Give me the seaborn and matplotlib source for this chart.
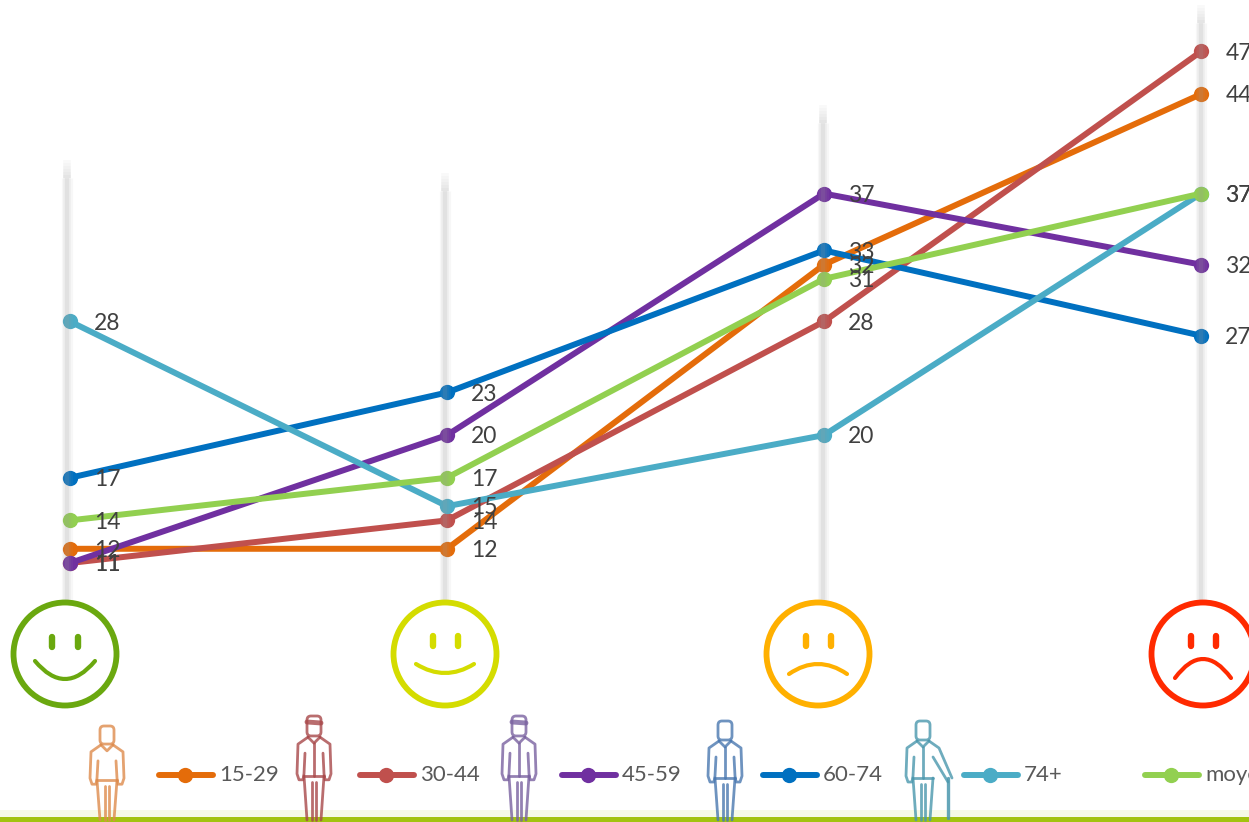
import matplotlib
matplotlib.use('Agg')
import numpy as np
import pandas as pd
import matplotlib.pyplot as plt
import seaborn as sns
from matplotlib.path import Path
from matplotlib.patches import Circle, PathPatch, FancyBboxPatch

# ==================== Data ====================
moods = [0, 1, 2, 3]
age_groups = ['15-29', '30-44', '45-59', '60-74', '74+', 'moyenne']
values_15_29 = [12, 12, 32, 44]
values_30_44 = [11, 14, 28, 47]
values_45_59 = [11, 20, 37, 32]
values_60_74 = [17, 23, 33, 27]
values_74_plus = [28, 15, 20, 37]
values_moyenne = [14, 17, 31, 37]
colors = ['#E46C0A', '#C0504D', '#7030A0', '#0070C0', '#4BACC6', '#92D050']

all_values = [values_15_29, values_30_44, values_45_59, values_60_74, values_74_plus, values_moyenne]
rows = []
for group, vals in zip(age_groups, all_values):
    for mood, val in zip(moods, vals):
        rows.append({'mood': mood, 'group': group, 'value': val})
df = pd.DataFrame(rows)

sns.set_theme(style='white')
plt.rcParams['font.family'] = ['Lato', 'DejaVu Sans']

W, H = 1249, 822
fig = plt.figure(figsize=(W / 100, H / 100), dpi=100, facecolor='white')

# chart axes fill the whole figure, limits chosen so the categories land under the faces
ax = fig.add_axes([0, 0, 1, 1])
px_per_cat = (1201 - 70) / 3
px_per_val = (563 - 51.5) / 36
ax.set_xlim(-70 / px_per_cat, (W - 70) / px_per_cat)
ax.set_ylim(47 - (H - 51.5) / px_per_val, 47 + 51.5 / px_per_val)
ax.axis('off')

sns.lineplot(data=df, x='mood', y='value', hue='group', hue_order=age_groups,
             palette=colors, marker='o', markersize=11, markeredgewidth=0,
             linewidth=4.3, errorbar=None, legend=False, ax=ax, zorder=3)

for vals in all_values:
    for mood, val in zip(moods, vals):
        ax.annotate(str(val), (mood, val), xytext=(17.5, -1.2), textcoords='offset points',
                    ha='left', va='center', fontsize=16.5, color='#404040', zorder=6)

# overlay in pixel coordinates for the decorations
deco = fig.add_axes([0, 0, 1, 1], facecolor='none')
deco.set_xlim(0, W)
deco.set_ylim(H, 0)
deco.axis('off')

# ---- soft vertical guides
guide_x = [67, 445, 823, 1201]
guide_top = [160, 173, 105, 5]
for gx, top in zip(guide_x, guide_top):
    for lw, alpha in [(8, 0.08), (5.5, 0.10), (3, 0.14)]:
        deco.plot([gx, gx], [top + 18, 600], color='#9a9a9a', lw=lw, alpha=alpha,
                  solid_capstyle='butt', zorder=4)
    for i, alpha in enumerate([0.05, 0.09, 0.13, 0.17, 0.21, 0.26]):
        deco.plot([gx, gx], [top + i * 3, top + i * 3 + 3], color='#9a9a9a', lw=5.5,
                  alpha=alpha, solid_capstyle='butt', zorder=4)


# ---- smileys
def face(cx, color, eye_dx, eye_y, mouth_dx, mouth_y, mouth_ctrl, r=51.5, lw=4.2, clip_x=None):
    art = []
    art.append(deco.add_patch(Circle((cx, 654), r, fill=False, ec=color, lw=lw, zorder=5)))
    for ex in eye_dx:
        art += deco.plot([cx + ex, cx + ex], eye_y, color=color, lw=4.6,
                         solid_capstyle='round', zorder=5)
    verts = [(cx - mouth_dx, mouth_y), (cx, mouth_ctrl), (cx + mouth_dx, mouth_y)]
    art.append(deco.add_patch(PathPatch(Path(verts, [Path.MOVETO, Path.CURVE3, Path.CURVE3]),
                                        fill=False, ec=color, lw=3, capstyle='round', zorder=5)))
    if clip_x is not None:
        box = plt.Rectangle((0, 0), clip_x, H, transform=deco.transData)
        for a in art:
            a.set_clip_path(box)


face(65, '#6AA80F', (-13, 13), (637, 647), 30, 661, 697, clip_x=120)
face(445, '#D4DC00', (-12, 13), (636, 646), 29, 664, 682)
face(818, '#FFB000', (-12, 13), (636, 646), 29, 674, 654)
face(1203, '#FF2A00', (-12, 13), (636, 646), 28, 678, 640)


# ---- little people above the legend
def person(cx, top, color, jacket=False, cane=False, hair=False):
    bottom = 820
    h = bottom - top
    lw = 2
    sx = 16
    neck = top + 0.23 * h
    hip = top + 0.58 * h
    hand = top + 0.56 * h
    c = dict(color=color, lw=lw, zorder=5, solid_capstyle='round', alpha=0.8)
    deco.add_patch(FancyBboxPatch((cx - 7, top + 1), 14, 0.19 * h, boxstyle='round,pad=0,rounding_size=4',
                                  fill=False, ec=color, lw=lw, alpha=0.8, zorder=5))
    if hair:
        deco.plot([cx - 7, cx + 7], [top + 7, top + 8], color=color, lw=3.5, alpha=0.8, zorder=5)
    # outer outline of shoulders and arms
    deco.plot([cx - 6, cx - sx, cx - sx - 1, cx - sx + 1, cx - sx + 5, cx - sx + 6, cx - sx + 7],
              [neck - 2, neck + 5, hand, hand + 6, hand + 6, hand, neck + 14], **c)
    if cane:
        deco.plot([cx + 6, cx + sx, cx + 29], [neck - 2, neck + 5, hand + 2], **c)
        deco.plot([cx + sx - 6, cx + 25], [neck + 14, hand + 6], **c)
        deco.plot([cx + 25, cx + 25], [hand + 2, bottom - 2], color=color, lw=2.4, alpha=0.85, zorder=5)
    else:
        deco.plot([cx + 6, cx + sx, cx + sx + 1, cx + sx - 1, cx + sx - 5, cx + sx - 6, cx + sx - 7],
                  [neck - 2, neck + 5, hand, hand + 6, hand + 6, hand, neck + 14], **c)
    # collar, hem, centre line
    deco.plot([cx - 6, cx, cx + 6], [neck - 2, neck + 4, neck - 2], **c)
    deco.plot([cx - 10, cx + 10], [hip, hip], **c)
    if jacket:
        deco.plot([cx, cx], [neck + 4, hip], **c)
    # legs
    deco.plot([cx - 10, cx - 7], [hip, bottom], **c)
    deco.plot([cx + 10, cx + 7], [hip, bottom], **c)
    deco.plot([cx - 2, cx - 2], [hip + 6, bottom], **c)
    deco.plot([cx + 2, cx + 2], [hip + 6, bottom], **c)


person(107, 725, '#DE8B4C')
person(314, 715, '#A8484A', jacket=True, hair=True)
person(519, 715, '#7A62A0', jacket=True, hair=True)
person(725, 720, '#4A78B0', jacket=True)
person(923, 720, '#4A97AD', jacket=True, cane=True)

# ---- hand placed legend, the icons sit between the entries
legend_left = [157, 358, 560, 761, 962, 1143]
for left, group, color in zip(legend_left, age_groups, colors):
    deco.plot([left + 2, left + 56], [775, 775], color=color, lw=4.3,
              solid_capstyle='round', zorder=5)
    deco.plot([left + 28], [775], 'o', color=color, ms=11, mew=0, zorder=5)
    deco.text(left + 62, 775, group, ha='left', va='center', fontsize=16,
              color='#595959', zorder=6)

# ---- green floor line
deco.axhspan(810, 817, color='#F6FAE6', lw=0, zorder=1)
deco.axhspan(817, 822, color='#A2C30F', lw=0, zorder=4)

fig.savefig('out.png', dpi=100)
